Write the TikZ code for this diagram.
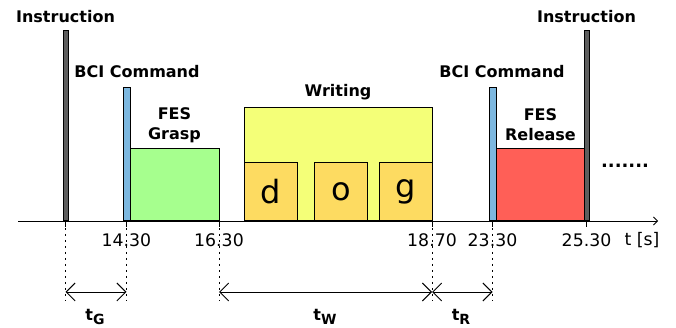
\documentclass[tikz,border=0pt]{standalone}
\usepackage{fontspec}
\setmainfont{DejaVu Sans}
\usetikzlibrary{arrows.meta, positioning}
\usepackage{xcolor}
\definecolor{instrgray}{HTML}{5E5E5E}
\definecolor{bciblue}{HTML}{7DB8E0}
\definecolor{graspgreen}{HTML}{A6FF8E}
\definecolor{writeyellow}{HTML}{F4FF78}
\definecolor{lettergold}{HTML}{FDDB61}
\definecolor{releasered}{HTML}{FF5F57}

\begin{document}
\begin{tikzpicture}[x=1pt,y=1pt,
  bar/.style={draw, line width=1pt, anchor=south west, inner sep=0pt, minimum width=#1},
  lbl/.style={font=\fontsize{16}{20}\selectfont\bfseries, align=center},
  ticklbl/.style={font=\fontsize{17.3}{19}\selectfont},
  letter/.style={bar=53pt, fill=lettergold, minimum height=58pt, font=\fontsize{32}{34}\selectfont},
  span/.style={{Straight Barb[length=9pt,width=18pt]}-{Straight Barb[length=9pt,width=18pt]}, line width=0.9pt},
  ]
\useasboundingbox (0,-107) rectangle (676,221);

% blocks
\node[bar=5pt, fill=instrgray, minimum height=190pt] (ins1) at (63,0) {};
\node[bar=7pt, fill=bciblue, minimum height=133pt] (bci1) at (123,0) {};
\node[bar=89pt, fill=graspgreen, minimum height=72pt] (grasp) at (130,0) {};
\node[bar=188pt, fill=writeyellow, minimum height=113pt] (writing) at (244,0) {};
\node[letter] (d) at (244,0) {d};
\node[letter] (o) at (314,0) {o};
\node[letter] (g) at (379,0) {g};
\node[bar=7pt, fill=bciblue, minimum height=133pt] (bci2) at (489,0) {};
\node[bar=89pt, fill=releasered, minimum height=72pt] (release) at (496,0) {};
\node[bar=5pt, fill=instrgray, minimum height=190pt] (ins2) at (584,0) {};

% labels
\node[lbl] (ins1lbl) at (65.5,204) {Instruction};
\node[lbl] (bci1lbl) at (137,149) {BCI Command};
\node[lbl] (grasplbl) at (174.5,96) {FES\\Grasp};
\node[lbl] (writinglbl) at (338,129) {Writing};
\node[lbl] (bci2lbl) at (502,149) {BCI Command};
\node[lbl] (releaselbl) at (540.5,96) {FES\\Release};
\node[lbl] (ins2lbl) at (586.5,204) {Instruction};
\node[lbl, font=\fontsize{18}{20}\selectfont\bfseries] (dots) at (625,55) {.......};

% time axis
\coordinate (axs) at (18,0);
\coordinate (axe) at (658,0);
\draw[line width=0.8pt, -{Straight Barb[length=4pt,width=8pt]}] (axs) -- (axe);
\foreach \x in {65.5,126.5,219,432,492.5,586.5}
  \draw[line width=0.8pt] (\x,0) -- (\x,-6);
\node[ticklbl] (t1) at (126.5,-19) {14.30};
\node[ticklbl] (t2) at (219,-19) {16.30};
\node[ticklbl] (t3) at (432,-19) {18.70};
\node[ticklbl] (t4) at (492.5,-19) {23.30};
\node[ticklbl] (t5) at (586.5,-19) {25.30};
\node[ticklbl] (tunit) at (642,-19) {t [s]};

% durations
\foreach \n/\x in {a/65.5,b/126.5,c/219,d/432,e/492.5}{
  \coordinate (top\n) at (\x,-7);
  \coordinate (bot\n) at (\x,-80);
  \coordinate (arr\n) at (\x,-71);
  \draw[dash pattern=on 2pt off 4pt, line width=0.9pt] (top\n) -- (bot\n);
}
\draw[span] (arra) -- (arrb);
\draw[span] (arrc) -- (arrd);
\draw[span] (arrd) -- (arre);
\node[lbl] (tG) at (95,-96) {t\raisebox{-0.4ex}{\fontsize{14}{14}\selectfont G}};
\node[lbl] (tW) at (325,-96) {t\raisebox{-0.4ex}{\fontsize{14}{14}\selectfont W}};
\node[lbl] (tR) at (461,-96) {t\raisebox{-0.4ex}{\fontsize{14}{14}\selectfont R}};
\end{tikzpicture}
\end{document}
